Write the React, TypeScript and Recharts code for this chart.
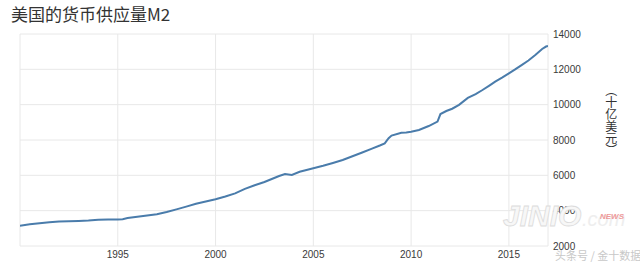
import React from 'react';
import { LineChart, Line, XAxis, YAxis, CartesianGrid } from 'recharts';

const title = '美国的货币供应量M2';
const unitLabel = '（十亿美元）';

// 时间点（年份，小数表示年内位置）与 M2 数值（十亿美元）
const years = [
  1990.0, 1990.5, 1991.0, 1991.5, 1992.0, 1992.5, 1993.0, 1993.5, 1994.0, 1994.5,
  1995.0, 1995.25, 1995.5, 1996.0, 1996.5, 1997.0, 1997.5, 1998.0, 1998.5, 1999.0,
  1999.5, 2000.0, 2000.5, 2001.0, 2001.5, 2002.0, 2002.5, 2003.0, 2003.25, 2003.55,
  2003.9, 2004.3, 2004.6, 2005.0, 2005.5, 2006.0, 2006.5, 2007.0, 2007.5, 2008.0,
  2008.4, 2008.65, 2008.85, 2009.0, 2009.5, 2009.75, 2010.0, 2010.4, 2010.9, 2011.35,
  2011.5, 2011.8, 2012.1, 2012.45, 2012.9, 2013.3, 2013.65, 2014.0, 2014.3, 2014.65,
  2015.0, 2015.3, 2015.65, 2016.0, 2016.35, 2016.7, 2016.9, 2017.0,
];
const m2 = [
  3150, 3230, 3290, 3350, 3380, 3400, 3415, 3440, 3480, 3500,
  3500, 3520, 3580, 3650, 3730, 3800, 3920, 4075, 4230, 4390,
  4520, 4650, 4800, 4980, 5230, 5440, 5620, 5850, 5960, 6075,
  6020, 6200, 6290, 6400, 6540, 6700, 6870, 7080, 7290, 7510,
  7690, 7810, 8100, 8250, 8415, 8430, 8470, 8570, 8790, 9040,
  9470, 9640, 9770, 9990, 10380, 10600, 10830, 11080, 11300, 11530,
  11775, 11980, 12240, 12500, 12810, 13150, 13290, 13320,
];

const xTicks = [1995, 2000, 2005, 2010, 2015];
const yTicks = [2000, 4000, 6000, 8000, 10000, 12000, 14000];

const data = years.map((y, i) => ({ year: y, m2: m2[i] }));

const tickFont = { fontSize: 10, fill: '#3a3a3a', fontFamily: '"Liberation Sans", Arial, sans-serif' };

const UnitLabel = (props: any) => {
  const vb = props.viewBox || {};
  const x = vb.x + 61;
  const y = vb.y + vb.height / 2 - 20;
  return (
    <text
      x={x}
      y={y}
      textAnchor="middle"
      dominantBaseline="middle"
      fill="#333"
      fontSize={12}
      fontFamily='"Noto Sans CJK SC", sans-serif'
      style={{ writingMode: 'vertical-rl' as any }}
    >
      {unitLabel}
    </text>
  );
};

const App = () => {
  return (
    <div style={{ position: 'absolute', left: 0, top: 0, width: 640, height: 265, background: '#fff' }}>
      <div
        style={{
          position: 'absolute',
          left: 11,
          top: 3,
          fontSize: 17,
          color: '#333',
          fontFamily: '"Noto Sans CJK SC", sans-serif',
          lineHeight: '22px',
        }}
      >
        {title}
      </div>
      <LineChart width={640} height={265} data={data} margin={{ top: 34, right: 32, bottom: 0, left: 20 }}>
        <CartesianGrid stroke="#e8e8e8" strokeWidth={1} />
        <XAxis
          dataKey="year"
          type="number"
          domain={[1990, 2017]}
          ticks={xTicks}
          axisLine={false}
          tickLine={false}
          tickSize={0}
          tickMargin={5}
          height={19}
          tick={tickFont}
          allowDataOverflow
        />
        <YAxis
          orientation="right"
          domain={[2000, 14000]}
          ticks={yTicks}
          axisLine={false}
          tickLine={false}
          tickSize={0}
          tickMargin={5}
          width={60}
          tick={tickFont}
          label={<UnitLabel />}
        />
        <Line
          type="linear"
          dataKey="m2"
          stroke="#4a7cab"
          strokeWidth={2}
          dot={false}
          isAnimationActive={false}
        />
      </LineChart>
      <svg
        width={640}
        height={265}
        style={{ position: 'absolute', left: 0, top: 0, pointerEvents: 'none' }}
      >
        <text
          x={503}
          y={226}
          fontSize={30}
          fontStyle="italic"
          fontWeight="bold"
          fill="#f7f7f7"
          stroke="#dcdcdc"
          strokeWidth={0.8}
          fontFamily='"Liberation Sans", Arial, sans-serif'
        >
          JINIO
        </text>
        <text
          x={582}
          y={226}
          fontSize={20}
          fontStyle="italic"
          fill="#eeeeee"
          fontFamily='"Liberation Sans", Arial, sans-serif'
        >
          .com
        </text>
        <text
          x={600}
          y={219}
          fontSize={8}
          fontStyle="italic"
          fontWeight="bold"
          fill="#ef9a9a"
          fontFamily='"Liberation Sans", Arial, sans-serif'
        >
          NEWS
        </text>
        <text
          x={555}
          y={260}
          fontSize={11}
          fill="#c8c8c8"
          fontFamily='"Noto Sans CJK SC", sans-serif'
        >
          头条号 / 金十数据
        </text>
      </svg>
    </div>
  );
};

export default App;
